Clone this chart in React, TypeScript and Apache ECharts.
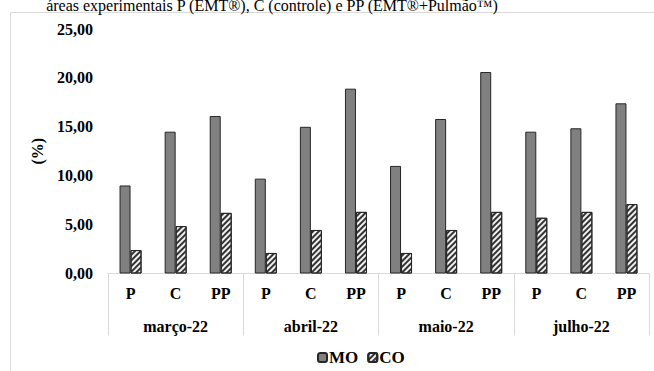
import React, { useEffect, useRef } from "react";
import * as echarts from "echarts";

const categories = ["P", "C", "PP", "P", "C", "PP", "P", "C", "PP", "P", "C", "PP"];
const groups = ["março-22", "abril-22", "maio-22", "julho-22"];
const moValues = [9.0, 14.5, 16.1, 9.7, 15.0, 18.9, 11.0, 15.8, 20.6, 14.5, 14.85, 17.4];
const coValues = [2.4, 4.85, 6.2, 2.1, 4.45, 6.3, 2.1, 4.45, 6.3, 5.7, 6.3, 7.1];
const titleText = "áreas experimentais P (EMT®), C (controle) e PP (EMT®+Pulmão™)";

const FONT = "Liberation Serif";

export default function App() {
  const ref = useRef<HTMLDivElement>(null);
  useEffect(() => {
    if (!ref.current) return;
    const chart = echarts.init(ref.current, null, { renderer: "svg" });
    chart.setOption({
      animation: false,
      backgroundColor: "#ffffff",
      textStyle: { fontFamily: FONT },
      graphic: [
        {
          type: "rect",
          shape: { x: 10.5, y: 12.5, width: 700, height: 400 },
          style: { fill: "none", stroke: "#d9d9d9", lineWidth: 1 },
          silent: true,
        },
        {
          type: "text",
          x: 272,
          y: 13,
          style: {
            text: titleText,
            fontFamily: FONT,
            fontSize: 16,
            fill: "#000",
            align: "center",
            verticalAlign: "bottom",
          },
        },
      ],
      legend: {
        left: 312,
        top: 344,
        itemWidth: 9,
        itemHeight: 9,
        itemGap: 9,
        textStyle: { fontFamily: FONT, fontWeight: "bold", fontSize: 17, color: "#000", padding: [0, 0, 0, -3] },
        data: ["MO", "CO"],
      },
      grid: { left: 108, right: 5, top: 29, bottom: 97.5, containLabel: false },
      xAxis: [
        {
          type: "category",
          data: categories,
          position: "bottom",
          axisLine: { show: true, lineStyle: { color: "#d9d9d9", width: 1 } },
          axisTick: { show: false },
          axisLabel: { color: "#000", fontFamily: FONT, fontWeight: "bold", fontSize: 16, margin: 12, interval: 0 },
        },
        {
          type: "category",
          data: groups,
          position: "bottom",
          axisLine: { show: false },
          axisTick: { show: true, length: 62, lineStyle: { color: "#d9d9d9", width: 1 } },
          axisLabel: { color: "#000", fontFamily: FONT, fontWeight: "bold", fontSize: 16, margin: 45, interval: 0 },
        },
      ],
      yAxis: {
        type: "value",
        min: 0,
        max: 25,
        interval: 5,
        name: "(%)",
        nameLocation: "middle",
        nameGap: 63,
        nameTextStyle: { color: "#000", fontFamily: FONT, fontWeight: "bold", fontSize: 16 },
        axisLine: { show: false },
        axisTick: { show: false },
        splitLine: { show: false },
        axisLabel: {
          color: "#000",
          fontFamily: FONT,
          fontWeight: "bold",
          fontSize: 16,
          margin: 15,
          formatter: (v: number) => v.toFixed(2).replace(".", ","),
        },
      },
      series: [
        {
          name: "MO",
          type: "bar",
          data: moValues,
          barWidth: 11,
          barGap: "0%",
          itemStyle: { color: "#808080", borderColor: "#262626", borderWidth: 1 },
        },
        {
          name: "CO",
          type: "bar",
          data: coValues,
          barWidth: 11,
          barGap: "0%",
          itemStyle: {
            color: "#f0f0f0",
            borderColor: "#262626",
            borderWidth: 1,
            decal: {
              symbol: "rect",
              symbolSize: 1,
              color: "#333333",
              dashArrayX: [1, 0],
              dashArrayY: [1.5, 1.5],
              rotation: -Math.PI / 4,
            },
          },
        },
      ],
    });
    return () => chart.dispose();
  }, []);
  return (
    <div
      ref={ref}
      style={{ position: "fixed", left: 0, top: 0, width: 654, height: 371 }}
    />
  );
}
